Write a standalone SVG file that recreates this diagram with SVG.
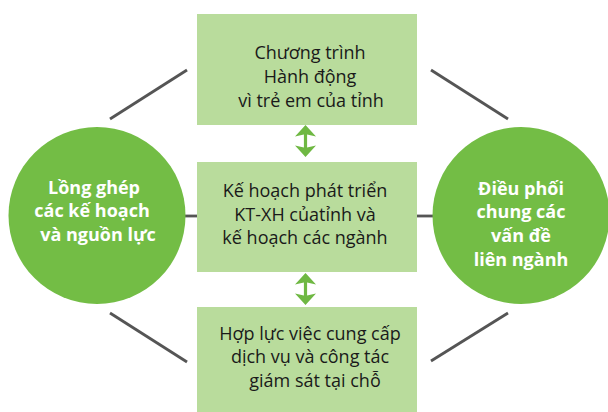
<svg xmlns="http://www.w3.org/2000/svg" width="608" height="412" viewBox="0 0 608 412">
<style>
.box{fill:#b9dc9c}
.circ{fill:#73bd45}
.bt{font-family:"Open Sans","Noto Sans",sans-serif;font-size:18px;fill:#1a1a1a;text-anchor:middle}
.ct{font-family:"Open Sans","Noto Sans",sans-serif;font-size:18px;font-weight:bold;fill:#ffffff;text-anchor:middle}
.ln{stroke:#555555;stroke-width:2.8;fill:none}
.ar{fill:#6fb843}
</style>
<defs>
<polygon id="arrow" class="ar" points="0,0 10.5,11.5 1.6,9.5 1.6,22.5 10.5,20.5 0,32 -10.5,20.5 -1.6,22.5 -1.6,9.5 -10.5,11.5"/>
</defs>
<rect width="608" height="412" fill="#ffffff"/>
<g id="connectors">
<line class="ln" x1="110" y1="119" x2="187" y2="70"/>
<line class="ln" x1="431" y1="70" x2="508" y2="119"/>
<line class="ln" x1="110" y1="313" x2="187" y2="362"/>
<line class="ln" x1="431" y1="361" x2="508" y2="313"/>
<line class="ln" x1="182" y1="216" x2="198" y2="216"/>
<line class="ln" x1="416" y1="216" x2="436" y2="216"/>
<use href="#arrow" x="305.5" y="125"/>
<use href="#arrow" x="305.5" y="273"/>
</g>
<g id="top">
<rect class="box" x="197" y="14" width="220" height="111"/>
<text class="bt"><tspan x="310" y="59">Chương trình</tspan><tspan x="310" y="83">Hành động</tspan><tspan x="311" y="107">vì trẻ em của tỉnh</tspan></text>
</g>
<g id="middle">
<rect class="box" x="197" y="162" width="220" height="110"/>
<text class="bt"><tspan x="305" y="197">Kế hoạch phát triển</tspan><tspan x="305" y="221">KT-XH củatỉnh và</tspan><tspan x="305" y="244">kế hoạch các ngành</tspan></text>
</g>
<g id="bottom">
<rect class="box" x="197" y="307" width="220" height="105"/>
<text class="bt"><tspan x="310" y="340">Hợp lực việc cung cấp</tspan><tspan x="310" y="363">dịch vụ và công tác</tspan><tspan x="315" y="387">giám sát tại chỗ</tspan></text>
</g>
<g id="left">
<circle class="circ" cx="97" cy="215.5" r="88.5"/>
<text class="ct"><tspan x="94" y="194">Lồng ghép</tspan><tspan x="92" y="217">các kế hoạch</tspan><tspan x="98" y="241">và nguồn lực</tspan></text>
</g>
<g id="right">
<circle class="circ" cx="521" cy="215.5" r="88.5"/>
<text class="ct"><tspan x="521" y="195">Điều phối</tspan><tspan x="521" y="218">chung các</tspan><tspan x="521" y="242">vấn đề</tspan><tspan x="521" y="266">liên ngành</tspan></text>
</g>
</svg>
